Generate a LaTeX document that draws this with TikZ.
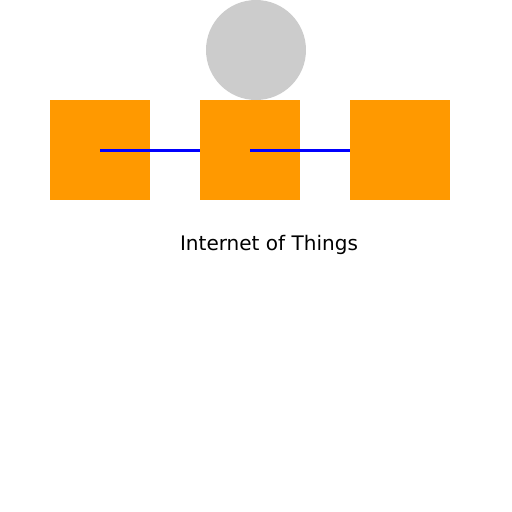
\documentclass[tikz,border=0pt]{standalone}
\usepackage{fontspec}
\setmainfont{DejaVu Sans}
\usepackage{tikz}
\definecolor{devorange}{HTML}{FF9900}
\definecolor{hubgray}{HTML}{CCCCCC}
\begin{document}
\begin{tikzpicture}[x=0.02cm,y=-0.02cm,
    device/.style={fill=devorange,minimum size=2cm,inner sep=0pt,outer sep=0pt},
    link/.style={blue,line width=1.7pt}]
    \useasboundingbox[fill=white] (0,0) rectangle (512,512);
    \node[circle,fill=hubgray,minimum size=2cm,inner sep=0pt] (hub) at (256,50) {};
    \node[device] (dev1) at (100,150) {};
    \node[device] (dev2) at (250,150) {};
    \node[device] (dev3) at (400,150) {};
    \draw[link] (dev1.center) -- (dev2.west);
    \draw[link] (dev2.center) -- (dev3.west);
    \node[font=\fontsize{11.4}{13}\selectfont] (title) at (269,245) {Internet of Things};
\end{tikzpicture}
\end{document}
